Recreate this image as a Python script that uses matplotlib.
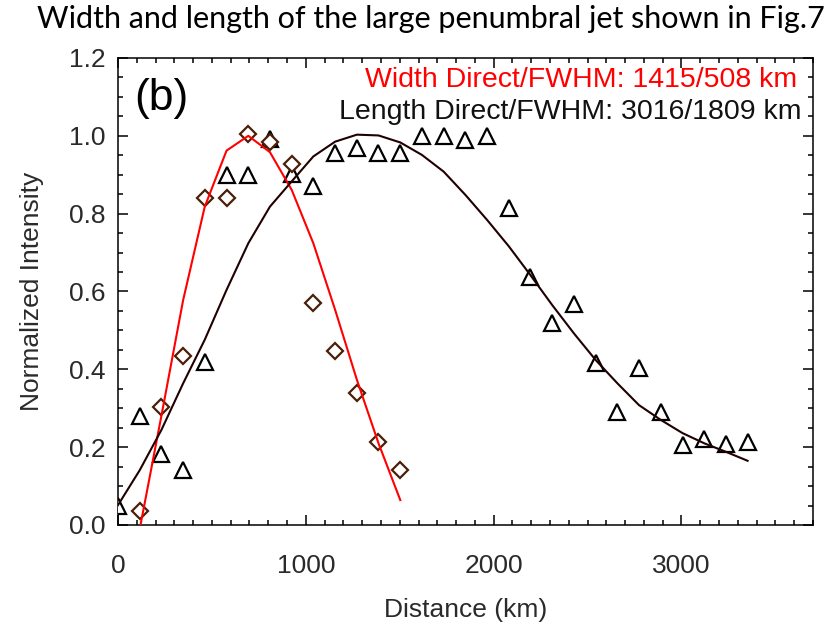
import matplotlib
matplotlib.use("Agg")
import matplotlib.pyplot as plt
from matplotlib.ticker import MultipleLocator

# width profile (diamonds) and its fit (red)
width_x = [116, 231, 347, 462, 578, 694, 809, 925, 1040, 1156, 1272, 1387, 1503]
width_y = [0.037, 0.304, 0.434, 0.839, 0.839, 1.004, 0.985, 0.927, 0.570, 0.446, 0.339, 0.212, 0.141]
width_fit = [-0.01, 0.28, 0.578, 0.818, 0.962, 1.000, 0.958, 0.861, 0.724, 0.553, 0.373, 0.210, 0.064]

# length profile (triangles) and its fit (black)
length_x = [0, 116, 231, 347, 462, 578, 694, 809, 925, 1040, 1156, 1272, 1387, 1503, 1618,
            1734, 1850, 1965, 2081, 2196, 2312, 2428, 2543, 2659, 2774, 2890, 3006, 3121, 3237, 3352]
length_y = [0.050, 0.280, 0.182, 0.141, 0.420, 0.900, 0.900, 0.991, 0.902, 0.871, 0.955, 0.968,
            0.957, 0.957, 1.000, 1.000, 0.990, 1.000, 0.814, 0.638, 0.519, 0.568, 0.417, 0.291,
            0.403, 0.291, 0.206, 0.220, 0.207, 0.212]
length_fit = [0.051, 0.141, 0.244, 0.364, 0.476, 0.604, 0.724, 0.818, 0.883, 0.947, 0.985, 1.003,
              1.001, 0.983, 0.951, 0.908, 0.848, 0.784, 0.716, 0.642, 0.565, 0.492, 0.424, 0.364,
              0.308, 0.270, 0.236, 0.210, 0.188, 0.165]

fig = plt.figure(figsize=(8.32, 6.27), dpi=100)
ax = fig.add_axes([0.1418, 0.1627, 0.8353, 0.7448])

ax.plot(length_x, length_y, linestyle='none', marker='^', markersize=12,
        markerfacecolor='white', markeredgecolor='black', markeredgewidth=1.6, zorder=3)
ax.plot(width_x, width_y, linestyle='none', marker='D', markersize=8,
        markerfacecolor='white', markeredgecolor='#4a1f0a', markeredgewidth=1.6, zorder=3)
ax.plot(width_x, width_fit, color='red', lw=1.5, zorder=4)
ax.plot(length_x, length_fit, color='#200000', lw=1.5, zorder=4)

ax.set_xlim(0, 3700)
ax.set_ylim(0, 1.2)
ax.xaxis.set_major_locator(MultipleLocator(1000))
ax.xaxis.set_minor_locator(MultipleLocator(100))
ax.yaxis.set_major_locator(MultipleLocator(0.2))
ax.yaxis.set_minor_locator(MultipleLocator(0.05))
ax.yaxis.set_major_formatter(lambda v, p: f'{v:.1f}')

tick_font = 'Liberation Sans'
ax.tick_params(which='both', direction='in', top=True, right=True, width=1.1,
               labelsize=19, labelcolor='#2a2a2a')
ax.tick_params(which='major', length=7)
ax.tick_params(which='minor', length=3.5)
ax.tick_params(axis='x', pad=21)
ax.tick_params(axis='y', pad=9)
for lab in ax.get_xticklabels() + ax.get_yticklabels():
    lab.set_fontfamily(tick_font)
for sp in ax.spines.values():
    sp.set_linewidth(1.1)

ax.set_xlabel('Distance (km)', fontsize=19, fontfamily=tick_font, color='#2a2a2a', labelpad=14)
ax.set_ylabel('Normalized Intensity', fontsize=19, fontfamily=tick_font, color='#2a2a2a', labelpad=18)

ax.text(0.024, 0.914, '(b)', transform=ax.transAxes, fontsize=32, fontfamily=tick_font,
        va='center', ha='left')
ax.text(0.977, 0.952, 'Width Direct/FWHM: 1415/508 km', transform=ax.transAxes, color='red',
        fontsize=20.5, fontfamily=tick_font, va='center', ha='right')
ax.text(0.983, 0.884, 'Length Direct/FWHM: 3016/1809 km', transform=ax.transAxes, color='#111111',
        fontsize=20.5, fontfamily=tick_font, va='center', ha='right')

fig.text(0.518, 0.970, 'Width and length of the large penumbral jet shown in Fig.7',
         fontsize=22, fontfamily='Lato', ha='center', va='center')

fig.savefig('out.png', dpi=100)
